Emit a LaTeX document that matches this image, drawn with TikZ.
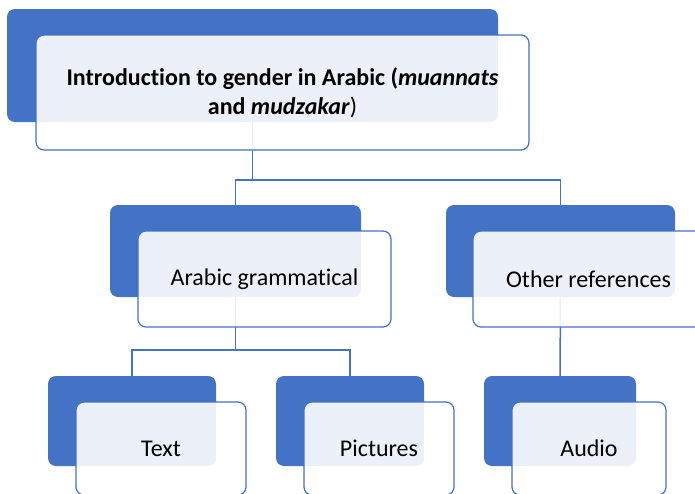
\documentclass[tikz,border=0pt]{standalone}
\usepackage{fontspec}
\setmainfont{Carlito}[Ligatures=NoCommon]
\definecolor{smartblue}{HTML}{4472C4}
\begin{document}
\begin{tikzpicture}[x=1pt,y=-1pt,
  backbox/.style={fill=smartblue,rounded corners=8pt,inner sep=0pt},
  frontbox/.style={draw=smartblue,line width=1.2pt,fill=white,fill opacity=.9,text opacity=1,rounded corners=8pt,inner sep=0pt,align=center,font=\fontsize{24}{29}\selectfont},
  link/.style={draw=smartblue,line width=1.5pt}]
\path[use as bounding box] (0,0) rectangle (695,493);
\clip (0,0) rectangle (695,493);
% back boxes
\node[backbox,minimum width=491pt,minimum height=113pt] (introB) at (252.5,65.5) {};
\node[backbox,minimum width=251pt,minimum height=92pt] (gramB) at (235.5,251) {};
\node[backbox,minimum width=229pt,minimum height=92pt] (otherB) at (560.5,251) {};
\node[backbox,minimum width=168pt,minimum height=90pt] (textB) at (132,421) {};
\node[backbox,minimum width=148pt,minimum height=90pt] (picB) at (350,421) {};
\node[backbox,minimum width=152pt,minimum height=90pt] (audioB) at (560,421) {};
% connectors
\draw[link] (introB.south) -- ++(0,58) coordinate (introJ);
\draw[link] (gramB.north) |- (introJ) -| (otherB.north);
\draw[link] (gramB.south) -- ++(0,53) coordinate (gramJ);
\draw[link] (textB.north) |- (gramJ) -| (picB.north);
\draw[link] (otherB.south) -- (audioB.north);
% front boxes
\node[frontbox,minimum width=493pt,minimum height=115pt] (intro) at (282.5,92.5)
  {\bfseries Introduction to gender in Arabic (\textit{muannats}\\ \bfseries and \textit{mudzakar}\mdseries)};
\node[frontbox,minimum width=253pt,minimum height=96pt] (gram) at (264.5,279) {Arabic grammatical};
\node[frontbox,minimum width=231pt,minimum height=96pt] (other) at (588.5,279) {Other references};
\node[frontbox,minimum width=170pt,minimum height=93pt] (text) at (161,448.5) {Text};
\node[frontbox,minimum width=150pt,minimum height=93pt] (pic) at (379,448.5) {Pictures};
\node[frontbox,minimum width=154pt,minimum height=93pt] (audio) at (589,448.5) {Audio};
\end{tikzpicture}
\end{document}
